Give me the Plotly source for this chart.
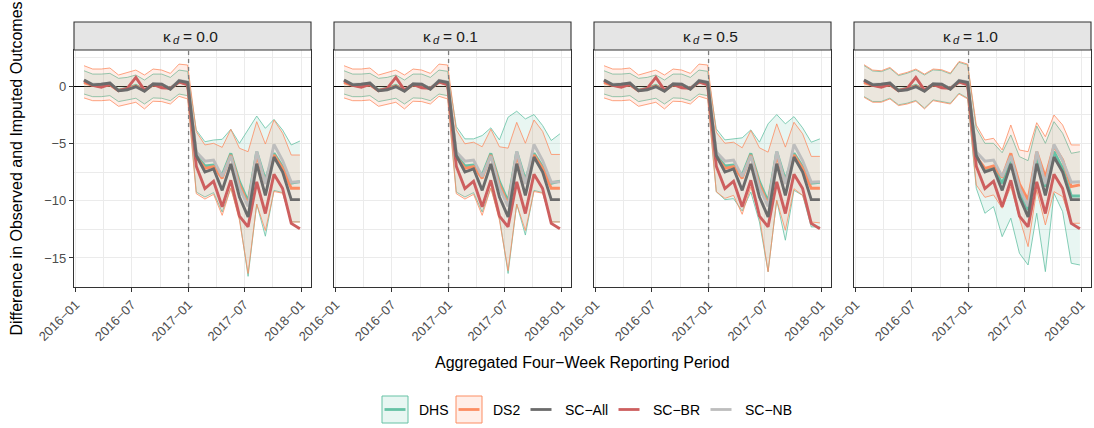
import plotly.graph_objects as go

# ---------------------------------------------------------------- data
periods = [
    "2016-01-28", "2016-02-25", "2016-03-24", "2016-04-21", "2016-05-19", "2016-06-16",
    "2016-07-14", "2016-08-11", "2016-09-08", "2016-10-06", "2016-11-03", "2016-12-01",
    "2016-12-29", "2017-01-26", "2017-02-23", "2017-03-23", "2017-04-20", "2017-05-18",
    "2017-06-15", "2017-07-13", "2017-08-10", "2017-09-07", "2017-10-05", "2017-11-02",
    "2017-11-30", "2017-12-28",
]
intervention = "2017-01-01"
kappa_labels = ["0.0", "0.1", "0.5", "1.0"]

# synthetic-control estimates (same in every panel)
sc_all = [0.52, 0.10, 0.15, 0.25, -0.42, -0.33, -0.05, -0.45, 0.17, 0.15, -0.28, 0.45, 0.30,
          -6.06, -7.50, -7.22, -9.10, -6.80, -9.68, -11.42, -6.78, -9.54, -6.20, -7.50, -9.91, -9.91]
sc_br = [0.45, 0.05, -0.10, 0.15, -0.40, -0.20, 0.75, -0.35, 0.15, -0.15, -0.20, 0.35, 0.10,
         -7.00, -8.94, -8.30, -10.53, -8.22, -11.35, -12.28, -8.36, -11.12, -7.70, -8.95, -11.98, -12.45]
sc_nb = [0.50, 0.15, 0.15, 0.25, -0.40, -0.30, -0.10, -0.40, 0.20, 0.15, -0.25, 0.50, 0.35,
         -5.75, -6.55, -6.45, -7.90, -6.10, -8.90, -10.50, -5.70, -8.55, -5.10, -6.50, -8.40, -8.35]

# DHS / DS2 point estimates, one list per kappa
dhs_est = [
    [0.35, 0.10, 0.05, 0.15, -0.35, -0.20, 0.05, -0.35, 0.15, 0.10, -0.20, 0.40, 0.25,
     -6.02, -6.97, -6.89, -7.76, -5.87, -8.34, -10.09, -5.73, -8.20, -5.87, -7.03, -8.48, -8.34],
    [0.35, 0.10, 0.05, 0.15, -0.35, -0.20, 0.05, -0.35, 0.15, 0.10, -0.20, 0.40, 0.25,
     -6.02, -6.97, -6.89, -7.76, -5.87, -8.34, -10.09, -5.73, -8.20, -5.87, -7.03, -8.48, -8.30],
    [0.35, 0.10, 0.05, 0.15, -0.35, -0.20, 0.05, -0.35, 0.15, 0.10, -0.20, 0.40, 0.25,
     -6.02, -6.97, -6.89, -7.76, -5.87, -8.34, -10.09, -5.73, -8.20, -5.87, -7.03, -8.48, -8.40],
    [0.35, 0.10, 0.05, 0.15, -0.35, -0.20, 0.05, -0.35, 0.15, 0.10, -0.20, 0.40, 0.25,
     -6.16, -7.32, -7.18, -8.48, -6.60, -9.36, -10.81, -6.16, -8.78, -5.73, -7.18, -9.59, -9.59],
]
ds2_est = [
    [0.30, 0.05, 0.00, 0.10, -0.40, -0.25, 0.00, -0.40, 0.10, 0.05, -0.25, 0.35, 0.20,
     -6.16, -7.18, -7.03, -8.05, -6.02, -8.63, -10.37, -6.02, -8.48, -6.02, -7.18, -8.92, -8.92],
    [0.30, 0.05, 0.00, 0.10, -0.40, -0.25, 0.00, -0.40, 0.10, 0.05, -0.25, 0.35, 0.20,
     -6.16, -7.18, -7.03, -8.05, -6.02, -8.63, -10.37, -6.02, -8.48, -6.02, -7.18, -8.92, -8.92],
    [0.30, 0.05, 0.00, 0.10, -0.40, -0.25, 0.00, -0.40, 0.10, 0.05, -0.25, 0.35, 0.20,
     -6.16, -7.18, -7.03, -8.05, -6.02, -8.63, -10.37, -6.02, -8.48, -6.02, -7.18, -8.92, -8.92],
    [0.30, 0.05, 0.00, 0.10, -0.40, -0.25, 0.00, -0.40, 0.10, 0.05, -0.25, 0.35, 0.20,
     -6.16, -7.18, -6.97, -7.96, -5.87, -8.54, -9.94, -5.73, -7.96, -5.23, -6.45, -8.78, -8.63],
]

# interval bounds, one list per kappa
dhs_hi = [
    [1.33, 1.04, 1.04, 1.10, 0.67, 0.75, 0.96, 0.52, 1.04, 1.04, 0.75, 1.39, 1.28,
     -3.84, -4.86, -4.71, -4.65, -3.78, -5.00, -3.84, -2.62, -3.69, -2.91, -3.84, -5.14, -4.80],
    [1.33, 1.04, 1.04, 1.10, 0.67, 0.75, 0.96, 0.52, 1.04, 1.04, 0.75, 1.39, 1.28,
     -3.54, -4.61, -4.61, -4.32, -3.65, -4.70, -2.72, -2.20, -2.87, -2.49, -3.45, -4.75, -4.17],
    [1.33, 1.04, 1.04, 1.10, 0.67, 0.75, 0.96, 0.52, 1.04, 1.04, 0.75, 1.39, 1.28,
     -3.74, -4.70, -4.61, -4.52, -3.83, -4.90, -3.30, -2.49, -3.30, -2.67, -3.65, -4.90, -4.61],
    [1.78, 1.31, 1.25, 1.54, 0.91, 1.11, 1.40, 0.96, 1.40, 1.34, 1.05, 2.06, 1.83,
     -3.69, -5.00, -5.00, -5.82, -4.27, -6.16, -6.51, -3.49, -5.00, -3.11, -4.12, -5.87, -5.73],
]
dhs_lo = [
    [-0.70, -0.93, -0.93, -0.84, -1.36, -1.22, -1.07, -1.57, -1.04, -1.07, -1.28, -0.70, -0.84,
     -9.25, -9.68, -9.30, -10.99, -8.90, -11.50, -16.60, -10.30, -13.10, -9.10, -9.30, -11.85, -11.85],
    [-0.70, -0.93, -0.93, -0.84, -1.36, -1.22, -1.07, -1.57, -1.04, -1.07, -1.28, -0.70, -0.84,
     -9.25, -9.68, -9.30, -10.99, -8.90, -11.50, -16.35, -10.30, -13.00, -9.10, -9.30, -11.85, -11.85],
    [-0.70, -0.93, -0.93, -0.84, -1.36, -1.22, -1.07, -1.57, -1.04, -1.07, -1.28, -0.70, -0.84,
     -9.22, -9.91, -9.83, -10.90, -9.25, -11.86, -16.20, -9.97, -13.45, -9.10, -9.54, -12.29, -12.29],
    [-0.92, -1.35, -1.35, -1.06, -1.64, -1.50, -1.26, -1.93, -1.21, -1.35, -1.50, -0.63, -1.06,
     -8.92, -11.10, -10.52, -13.14, -11.53, -14.59, -15.61, -11.10, -16.19, -9.36, -10.96, -15.46, -15.61],
]
ds2_hi = [
    [1.77, 1.48, 1.48, 1.57, 0.96, 1.19, 1.39, 0.96, 1.48, 1.39, 1.10, 1.91, 1.83,
     -3.98, -5.14, -5.00, -5.35, -3.78, -5.43, -5.73, -3.11, -5.06, -2.96, -4.12, -6.02, -6.02],
    [1.77, 1.48, 1.48, 1.57, 0.96, 1.19, 1.39, 0.96, 1.48, 1.39, 1.10, 1.91, 1.83,
     -3.83, -5.04, -4.90, -5.30, -3.77, -5.30, -5.42, -3.17, -4.99, -2.96, -3.96, -5.97, -5.97],
    [1.77, 1.48, 1.48, 1.57, 0.96, 1.19, 1.39, 0.96, 1.48, 1.39, 1.10, 1.91, 1.83,
     -4.03, -4.99, -4.90, -5.39, -3.88, -5.39, -5.77, -3.30, -5.33, -3.16, -4.17, -6.14, -6.14],
    [1.86, 1.39, 1.33, 1.62, 0.99, 1.19, 1.48, 1.04, 1.48, 1.42, 1.13, 2.14, 1.91,
     -3.40, -4.71, -4.56, -5.58, -3.40, -5.58, -5.73, -3.20, -4.42, -2.53, -3.40, -5.14, -5.14],
]
ds2_lo = [
    [-1.04, -1.28, -1.28, -1.22, -1.77, -1.57, -1.42, -2.00, -1.33, -1.36, -1.57, -0.90, -1.13,
     -9.39, -9.86, -9.45, -11.28, -8.90, -11.71, -16.35, -10.30, -12.60, -9.20, -9.35, -11.86, -11.86],
    [-1.04, -1.28, -1.28, -1.22, -1.77, -1.57, -1.42, -2.00, -1.33, -1.36, -1.57, -0.90, -1.13,
     -9.39, -9.86, -9.45, -11.28, -8.90, -11.71, -16.10, -10.30, -12.60, -9.20, -9.35, -11.86, -11.86],
    [-1.04, -1.28, -1.28, -1.22, -1.77, -1.57, -1.42, -2.00, -1.33, -1.36, -1.57, -0.90, -1.13,
     -9.22, -9.80, -9.54, -11.19, -8.81, -11.42, -16.20, -9.97, -12.58, -8.96, -9.54, -11.86, -11.94],
    [-0.99, -1.42, -1.42, -1.13, -1.71, -1.57, -1.33, -2.00, -1.28, -1.42, -1.57, -0.70, -1.13,
     -8.63, -9.71, -9.50, -10.66, -8.78, -11.53, -14.01, -9.07, -12.12, -9.21, -9.65, -11.97, -11.97],
]

x_tick_vals = ["2016-01-01", "2016-07-01", "2017-01-01", "2017-07-01", "2018-01-01"]
x_tick_text = ["2016\u221201", "2016\u221207", "2017\u221201", "2017\u221207", "2018\u221201"]
x_minor_vals = ["2016-04-01", "2016-10-01", "2017-04-01", "2017-10-01"]
y_tick_vals = [-15, -10, -5, 0]
y_tick_text = ["\u221215", "\u221210", "\u22125", "0"]
y_minor_vals = [-12.5, -7.5, -2.5, 2.5]
y_limits = [-17.53, 3.14]
x_limits = ["2015-12-26 12:00", "2018-02-02"]

# ---------------------------------------------------------------- style
W, H = 1094, 428
FONT = "Liberation Sans, Arial, sans-serif"
C_DHS, C_DS2 = "#66C2A5", "#FC8D62"
F_DHS, F_DS2 = "rgba(102,194,165,0.15)", "rgba(252,141,98,0.15)"
C_ALL, C_BR, C_NB = "#6B6B6B", "#CD5F5F", "#BDBDBD"
GRID = "#EBEBEB"
BORDER = "#333333"
STRIP_TXT = "#1A1A1A"

panel_left = [74, 334, 594, 854]
panel_w = 237
panel_top, panel_bot = 50, 287
strip_top = 22


def px(x):
    return x / W


def py(y):
    return 1 - y / H


fig = go.Figure()
shapes, annotations = [], []

for p in range(4):
    sfx = "" if p == 0 else str(p + 1)
    xa, ya = "x" + sfx, "y" + sfx

    def add_ribbon(lo, hi, fill, col):
        fig.add_trace(go.Scatter(
            x=periods + periods[::-1], y=hi + lo[::-1], mode="lines", fill="toself",
            fillcolor=fill, line=dict(width=0), hoverinfo="skip", showlegend=False,
            xaxis=xa, yaxis=ya))
        for edge in (lo, hi):
            fig.add_trace(go.Scatter(
                x=periods, y=edge, mode="lines", line=dict(color=col, width=0.8),
                hoverinfo="skip", showlegend=False, xaxis=xa, yaxis=ya))

    add_ribbon(dhs_lo[p], dhs_hi[p], F_DHS, C_DHS)
    add_ribbon(ds2_lo[p], ds2_hi[p], F_DS2, C_DS2)

    # intervention date marker
    fig.add_trace(go.Scatter(
        x=[intervention, intervention], y=y_limits, mode="lines",
        line=dict(color="#7F7F7F", width=1.3, dash="4px,4px"),
        hoverinfo="skip", showlegend=False, xaxis=xa, yaxis=ya))

    for series, col in ((dhs_est[p], C_DHS), (ds2_est[p], C_DS2),
                        (sc_nb, C_NB), (sc_br, C_BR), (sc_all, C_ALL)):
        fig.add_trace(go.Scatter(
            x=periods, y=series, mode="lines", line=dict(color=col, width=2.9),
            showlegend=False, xaxis=xa, yaxis=ya))

    x0, x1 = panel_left[p], panel_left[p] + panel_w
    xaxis = dict(
        domain=[px(x0), px(x1)], anchor=ya, type="date", range=x_limits,
        tickmode="array", tickvals=x_tick_vals, ticktext=x_tick_text, tickangle=-45,
        ticks="outside", ticklen=4, tickwidth=1, tickcolor=BORDER,
        tickfont=dict(family=FONT, size=13, color="#4D4D4D"),
        showgrid=True, gridcolor=GRID, gridwidth=1.1,
        minor=dict(tickvals=x_minor_vals, showgrid=True, gridcolor=GRID, gridwidth=0.55, ticks=""),
        showline=True, mirror=True, linecolor=BORDER, linewidth=1.1,
        zeroline=False, automargin=False, fixedrange=True,
    )
    yaxis = dict(
        domain=[py(panel_bot), py(panel_top)], anchor=xa, range=y_limits,
        tickmode="array", tickvals=y_tick_vals, ticktext=y_tick_text,
        ticks="outside" if p == 0 else "", ticklen=4, tickwidth=1, tickcolor=BORDER,
        showticklabels=(p == 0),
        tickfont=dict(family=FONT, size=13, color="#4D4D4D"),
        showgrid=True, gridcolor=GRID, gridwidth=1.1,
        minor=dict(tickvals=y_minor_vals, showgrid=True, gridcolor=GRID, gridwidth=0.55, ticks=""),
        showline=True, mirror=True, linecolor=BORDER, linewidth=1.1,
        zeroline=True, zerolinecolor="#000000", zerolinewidth=1.1,
        automargin=False, fixedrange=True,
    )
    fig.update_layout(**{"xaxis" + sfx: xaxis, "yaxis" + sfx: yaxis})

    # facet strip: box, then "κ", a subscript italic "d", and "= value"
    shapes.append(dict(type="rect", xref="paper", yref="paper", x0=px(x0), x1=px(x1),
                       y0=py(panel_top), y1=py(strip_top), fillcolor="#E5E5E5",
                       line=dict(color=BORDER, width=1.1), layer="above"))
    cx = (x0 + x1) / 2
    cy = (strip_top + panel_top) / 2
    strip_parts = [
        ("\u03ba", cx - 31.5, cy, 15.5, "normal"),
        ("d", cx - 22.0, cy + 4.0, 11, "italic"),
        ("= " + kappa_labels[p], cx - 12.0, cy, 15.5, "normal"),
    ]
    for txt, tx, ty, size, style in strip_parts:
        annotations.append(dict(xref="paper", yref="paper", x=px(tx), y=py(ty), text=txt,
                                showarrow=False, xanchor="left", yanchor="middle",
                                font=dict(family=FONT, size=size, color=STRIP_TXT, style=style)))

# axis titles
annotations.append(dict(xref="paper", yref="paper", x=px(16), y=py((panel_top + panel_bot) / 2),
                        text="Difference in Observed and Imputed Outcomes", textangle=-90,
                        showarrow=False, xanchor="center", yanchor="middle",
                        font=dict(family=FONT, size=16, color="#000000")))
annotations.append(dict(xref="paper", yref="paper", x=px(582.5), y=py(362),
                        text="Aggregated Four\u2212Week Reporting Period",
                        showarrow=False, xanchor="center", yanchor="middle",
                        font=dict(family=FONT, size=16, color="#000000")))

# legend
leg_y = 409.5
legend_items = [
    ("DHS", C_DHS, F_DHS, 382, 417),
    ("DS2", C_DS2, F_DS2, 456, 491),
    ("SC\u2212All", C_ALL, None, 528, 563),
    ("SC\u2212BR", C_BR, None, 616, 651),
    ("SC\u2212NB", C_NB, None, 708, 743),
]
for label, col, fill, kx, tx in legend_items:
    if fill is not None:
        shapes.append(dict(type="rect", xref="paper", yref="paper", x0=px(kx), x1=px(kx + 26),
                           y0=py(leg_y + 13.5), y1=py(leg_y - 13.5), fillcolor=fill,
                           line=dict(color=col, width=1)))
    shapes.append(dict(type="line", xref="paper", yref="paper", x0=px(kx + 2.5), x1=px(kx + 23.5),
                       y0=py(leg_y), y1=py(leg_y), line=dict(color=col, width=2.8)))
    annotations.append(dict(xref="paper", yref="paper", x=px(tx), y=py(leg_y), text=label,
                            showarrow=False, xanchor="left", yanchor="middle",
                            font=dict(family=FONT, size=14, color="#000000")))

fig.update_layout(
    width=W, height=H, margin=dict(l=0, r=0, t=0, b=0),
    paper_bgcolor="white", plot_bgcolor="white",
    showlegend=False, shapes=shapes, annotations=annotations,
    font=dict(family=FONT),
)

fig.write_html("out.html")
